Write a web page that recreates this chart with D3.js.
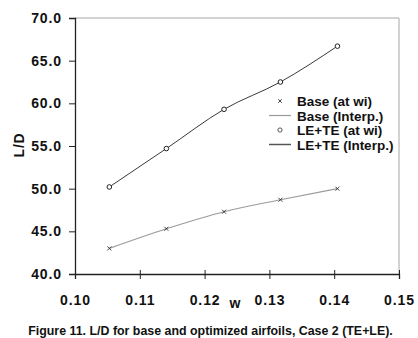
<!DOCTYPE html>
<html>
<head>
<meta charset="utf-8">
<script src="https://cdn.jsdelivr.net/npm/d3@7"></script>
<style>
  html, body { margin: 0; padding: 0; background: #fff; }
  svg { display: block; font-family: "Liberation Sans", Arial, sans-serif; }
</style>
</head>
<body>
<svg id="chart" width="418" height="338"></svg>
<script>
// Design wing loading values and lift-to-drag ratios
const wi = [0.1053, 0.1141, 0.1230, 0.1317, 0.1405];
const baseLD = [43.0, 45.3, 47.3, 48.7, 50.0];
const leteLD = [50.2, 54.7, 59.3, 62.5, 66.7];

const xTicks = [0.10, 0.11, 0.12, 0.13, 0.14, 0.15];
const yTicks = [40, 45, 50, 55, 60, 65, 70];
const legendLabels = ["Base (at wi)", "Base (Interp.)", "LE+TE (at wi)", "LE+TE (Interp.)"];
const caption = "Figure 11. L/D for base and optimized airfoils, Case 2 (TE+LE).";

const svg = d3.select("#chart");
const plotL = 75, plotR = 399, plotT = 18, plotB = 274;

const x = d3.scaleLinear().domain([0.10, 0.15]).range([plotL, plotR]);
const y = d3.scaleLinear().domain([40, 70]).range([plotB, plotT]);

// light frame on top and right
svg.append("path")
  .attr("d", `M${plotL},${plotT}H${plotR}V${plotB}`)
  .attr("fill", "none").attr("stroke", "#a6a6a6").attr("stroke-width", 1);

// y axis
const yAxis = svg.append("g")
  .attr("transform", `translate(${plotL},0)`)
  .call(d3.axisLeft(y).tickValues(yTicks).tickFormat(d3.format(".1f")).tickSize(6).tickPadding(7));
yAxis.select(".domain").attr("stroke", "#222").attr("stroke-width", 1.3);
yAxis.selectAll(".tick line").attr("stroke", "#222");
yAxis.selectAll(".tick text")
  .attr("font-size", 14).attr("font-weight", "bold").attr("fill", "#111")
  .style("letter-spacing", "0.9px");

// x axis with ticks crossing the axis line
const xAxis = svg.append("g")
  .attr("transform", `translate(0,${plotB})`)
  .call(d3.axisBottom(x).tickValues(xTicks).tickFormat(d3.format(".2f")).tickSizeOuter(0).tickSize(5).tickPadding(16));
xAxis.select(".domain").attr("stroke", "#222").attr("stroke-width", 1.3);
xAxis.selectAll(".tick line").attr("stroke", "#222").attr("y1", -4).attr("y2", 5);
xAxis.selectAll(".tick text")
  .attr("font-size", 14).attr("font-weight", "bold").attr("fill", "#111")
  .style("letter-spacing", "0.9px");

// axis titles
svg.append("text")
  .attr("x", 235).attr("y", 308)
  .attr("text-anchor", "middle")
  .attr("font-size", 14).attr("font-weight", "bold").attr("fill", "#111")
  .text("w");

svg.append("text")
  .attr("transform", "translate(24,145) rotate(-90)")
  .attr("text-anchor", "middle")
  .attr("font-size", 14).attr("font-weight", "bold").attr("fill", "#111")
  .style("letter-spacing", "0.8px")
  .text("L/D");

// interpolation curves
const line = d3.line().x(d => x(d[0])).y(d => y(d[1])).curve(d3.curveMonotoneX);
const basePts = wi.map((w, i) => [w, baseLD[i]]);
const letePts = wi.map((w, i) => [w, leteLD[i]]);

svg.append("path").datum(basePts)
  .attr("d", line).attr("fill", "none")
  .attr("stroke", "#9a9a9a").attr("stroke-width", 1.2);
svg.append("path").datum(letePts)
  .attr("d", line).attr("fill", "none")
  .attr("stroke", "#3a3a3a").attr("stroke-width", 1);

// markers
const cross = (g, cx, cy, s) => g.append("path")
  .attr("d", `M${cx - s},${cy - s}L${cx + s},${cy + s}M${cx - s},${cy + s}L${cx + s},${cy - s}`)
  .attr("stroke", "#333").attr("stroke-width", 0.9).attr("fill", "none");

const marks = svg.append("g");
basePts.forEach(d => cross(marks, x(d[0]), y(d[1]), 2));
marks.selectAll("circle").data(letePts).enter().append("circle")
  .attr("cx", d => x(d[0])).attr("cy", d => y(d[1])).attr("r", 2.3)
  .attr("fill", "#fff").attr("stroke", "#222").attr("stroke-width", 1);

// legend
const lg = svg.append("g");
const rowY = [101, 115.5, 130, 144.5];
const mx = 280, tx = 297;
cross(lg, mx, rowY[0], 1.8);
lg.append("line").attr("x1", 269).attr("x2", 291).attr("y1", rowY[1]).attr("y2", rowY[1])
  .attr("stroke", "#9a9a9a").attr("stroke-width", 1.2);
lg.append("circle").attr("cx", mx).attr("cy", rowY[2]).attr("r", 2.1)
  .attr("fill", "#fff").attr("stroke", "#555").attr("stroke-width", 1);
lg.append("line").attr("x1", 269).attr("x2", 291).attr("y1", rowY[3]).attr("y2", rowY[3])
  .attr("stroke", "#555").attr("stroke-width", 1.5);
lg.selectAll("text").data(legendLabels).enter().append("text")
  .attr("x", tx).attr("y", (d, i) => rowY[i] + 5)
  .attr("font-size", 13.5).attr("font-weight", "bold").attr("fill", "#111")
  .text(d => d);

// caption
svg.append("text")
  .attr("x", 210.5).attr("y", 335)
  .attr("text-anchor", "middle")
  .attr("font-size", 12.4).attr("font-weight", "bold").attr("fill", "#111")
  .text(caption);
</script>
</body>
</html>
